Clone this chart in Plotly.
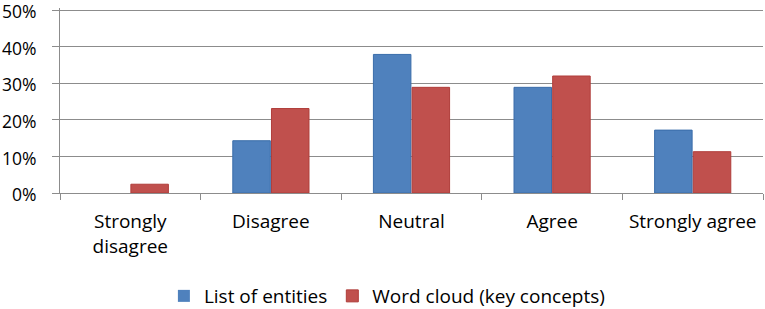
import plotly.graph_objects as go

categories = ["Strongly<br>disagree", "Disagree", "Neutral", "Agree", "Strongly agree"]
list_of_entities = [0.0, 14.3, 37.9, 28.9, 17.2]
word_cloud = [2.4, 23.1, 28.9, 32.0, 11.3]
y_ticks = [0, 10, 20, 30, 40, 50]

FONT = "Open Sans"
GRID = "#8c8c8c"


def edge_widths(vals):
    return [0 if v == 0 else 1 for v in vals]


fig = go.Figure()
fig.add_trace(go.Bar(
    x=categories, y=list_of_entities, name="List of entities",
    marker=dict(color="#4F81BD", line=dict(color="#3A6DAA", width=edge_widths(list_of_entities))),
))
fig.add_trace(go.Bar(
    x=categories, y=word_cloud, name="Word cloud (key concepts)",
    marker=dict(color="#C0504D", line=dict(color="#B03D3A", width=edge_widths(word_cloud))),
))

fig.update_layout(
    width=765, height=309,
    margin=dict(l=60, r=2, t=8, b=116, autoexpand=False),
    paper_bgcolor="white", plot_bgcolor="white",
    barmode="group", bargap=0.45, bargroupgap=0.03,
    font=dict(family=FONT, size=18, color="black"),
    showlegend=True,
    legend=dict(orientation="h", x=0.465, xanchor="center", y=0.042, yanchor="middle",
                yref="container",
                font=dict(family=FONT, size=19), traceorder="normal"),
    xaxis=dict(
        type="category", showgrid=False, showline=True, linecolor=GRID, linewidth=1,
        ticks="outside", tickson="boundaries", ticklen=6, tickcolor=GRID,
        tickfont=dict(family=FONT, size=19), zeroline=False, automargin=False,
        ticklabelstandoff=11, ticklabeloverflow="allow",
    ),
    yaxis=dict(
        range=[0, 50.6], tickvals=y_ticks, ticktext=[f"{v}%" for v in y_ticks],
        showgrid=True, gridcolor=GRID, gridwidth=1,
        showline=True, linecolor=GRID, linewidth=1,
        ticks="outside", ticklen=7, tickcolor=GRID,
        tickfont=dict(family=FONT, size=17.5), zeroline=False, automargin=False,
        ticklabelstandoff=12, ticklabeloverflow="allow", ticklabelshift=2,
    ),
)

fig.write_html("out.html", config={"displayModeBar": False},
               post_script="document.body.style.margin='0';")
